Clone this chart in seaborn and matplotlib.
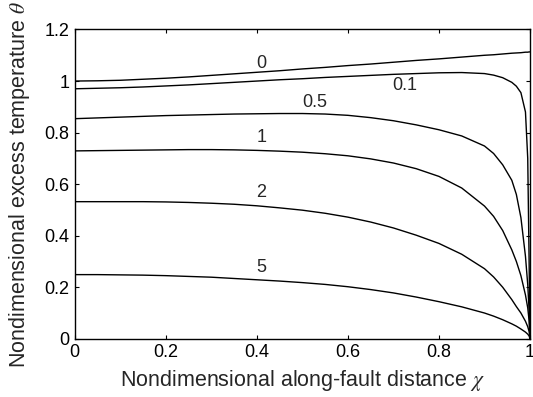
import pandas as pd
import seaborn as sns
import matplotlib.pyplot as plt

# along-fault distance (shared grid)
chi = [0, 0.05, 0.1, 0.15, 0.2, 0.25, 0.3, 0.35, 0.4, 0.45, 0.5, 0.55, 0.6,
       0.65, 0.7, 0.75, 0.8, 0.85, 0.9, 0.92, 0.94, 0.96, 0.97, 0.98, 0.99,
       0.995, 0.998, 1.0]

theta_0 = [1.000, 1.001, 1.003, 1.007, 1.011, 1.016, 1.022, 1.028, 1.034, 1.040,
           1.047, 1.053, 1.060, 1.066, 1.073, 1.080, 1.086, 1.093, 1.100, 1.102,
           1.105, 1.108, 1.109, 1.110, 1.112, 1.112, 1.113, 1.113]
theta_01 = [0.970, 0.972, 0.974, 0.977, 0.981, 0.985, 0.990, 0.995, 1.000, 1.005,
            1.009, 1.014, 1.018, 1.022, 1.026, 1.029, 1.032, 1.033, 1.029, 1.023,
            1.013, 0.995, 0.980, 0.955, 0.880, 0.700, 0.300, 0.0]
theta_05 = [0.854, 0.857, 0.860, 0.863, 0.866, 0.868, 0.870, 0.872, 0.873, 0.874,
            0.874, 0.872, 0.867, 0.858, 0.846, 0.830, 0.811, 0.787, 0.748, 0.719,
            0.675, 0.615, 0.560, 0.470, 0.320, 0.210, 0.110, 0.0]
theta_1 = [0.729, 0.730, 0.731, 0.732, 0.733, 0.734, 0.734, 0.733, 0.731, 0.728,
           0.724, 0.718, 0.710, 0.698, 0.682, 0.660, 0.630, 0.585, 0.515, 0.475,
           0.420, 0.345, 0.300, 0.245, 0.170, 0.120, 0.070, 0.0]
theta_2 = [0.532, 0.532, 0.532, 0.532, 0.531, 0.529, 0.526, 0.522, 0.516, 0.508,
           0.499, 0.487, 0.472, 0.453, 0.430, 0.402, 0.370, 0.328, 0.272, 0.240,
           0.200, 0.152, 0.125, 0.100, 0.068, 0.047, 0.028, 0.0]
theta_5 = [0.249, 0.249, 0.248, 0.247, 0.245, 0.242, 0.239, 0.234, 0.229, 0.224,
           0.218, 0.211, 0.202, 0.191, 0.178, 0.162, 0.144, 0.124, 0.100, 0.088,
           0.074, 0.058, 0.049, 0.038, 0.026, 0.018, 0.011, 0.0]

curve_names = ["0", "0.1", "0.5", "1", "2", "5"]
curves = [theta_0, theta_01, theta_05, theta_1, theta_2, theta_5]
label_x = [0.41, 0.725, 0.528, 0.41, 0.41, 0.41]
label_y = [1.07, 0.981, 0.916, 0.78, 0.567, 0.277]

rows = []
for name, vals in zip(curve_names, curves):
    for c, t in zip(chi, vals):
        rows.append({"chi": c, "theta": t, "curve": name})
df = pd.DataFrame(rows)

sns.set_theme(style="ticks")
plt.rcParams["font.family"] = ["Liberation Sans", "DejaVu Sans"]
plt.rcParams["mathtext.fontset"] = "stix"

fig, ax = plt.subplots(figsize=(5.33, 3.97), dpi=100)
fig.subplots_adjust(left=0.1403, right=0.9944, bottom=0.1466, top=0.9257)

sns.lineplot(data=df, x="chi", y="theta", hue="curve",
             palette=["black"] * len(curve_names), linewidth=1.0,
             legend=False, ax=ax)

for name, lx, ly in zip(curve_names, label_x, label_y):
    ax.text(lx, ly, name, fontsize=13, ha="center", va="center")

ax.set_xlim(0, 1)
ax.set_ylim(0, 1.2)
ax.set_xticks([0, 0.2, 0.4, 0.6, 0.8, 1])
ax.set_xticklabels(["0", "0.2", "0.4", "0.6", "0.8", "1"])
ax.set_yticks([0, 0.2, 0.4, 0.6, 0.8, 1, 1.2])
ax.set_yticklabels(["0", "0.2", "0.4", "0.6", "0.8", "1", "1.2"])
ax.tick_params(direction="in", top=True, right=True, length=3, width=0.8,
               labelsize=13, colors="black", pad=4)
for s in ax.spines.values():
    s.set_color("black")
    s.set_linewidth(1.0)

ax.set_xlabel(r"Nondimensional along-fault distance $\chi$", fontsize=15.5,
              labelpad=5)
ax.set_ylabel(r"Nondimensional excess temperature $\theta$", fontsize=15.5,
              labelpad=9)

plt.savefig("out.png", dpi=100)
